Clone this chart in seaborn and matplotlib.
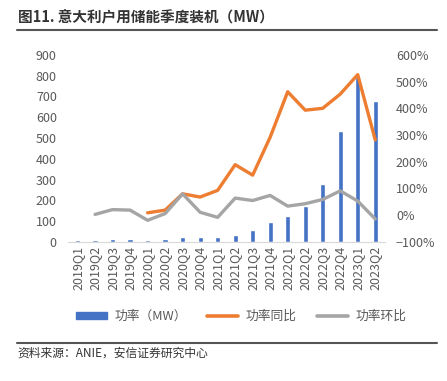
import numpy as np
import pandas as pd
import matplotlib
matplotlib.use("Agg")
import matplotlib.pyplot as plt
import seaborn as sns
from matplotlib.lines import Line2D
from matplotlib.patches import Patch

# data
quarters = ["2019Q1", "2019Q2", "2019Q3", "2019Q4", "2020Q1", "2020Q2", "2020Q3", "2020Q4",
            "2021Q1", "2021Q2", "2021Q3", "2021Q4", "2022Q1", "2022Q2", "2022Q3", "2022Q4",
            "2023Q1", "2023Q2"]
power_mw = [10, 10, 13, 14, 11, 12, 22, 24, 22, 35, 56, 94, 127, 174, 281, 532, 795, 677]
yoy_pct = [np.nan, np.nan, np.nan, np.nan, 9, 19, 80, 68, 93, 189, 150, 292,
           462, 393, 400, 453, 526, 282]
qoq_pct = [np.nan, 3, 21, 19, -19, 6, 80, 11, -8, 64, 55, 74, 34, 43, 59, 91, 53, -14]

BLUE = "#4472C4"
ORANGE = "#ED7D31"
GRAY = "#A5A5A5"
TXT = "#595959"

sns.set_style("white")
plt.rcParams["font.family"] = ["Noto Sans CJK SC", "DejaVu Sans"]

df = pd.DataFrame({"q": quarters, "mw": power_mw, "yoy": yoy_pct, "qoq": qoq_pct})
df["idx"] = np.arange(len(df))

fig = plt.figure(figsize=(4.47, 3.81), dpi=100)
ax = fig.add_axes([0.152, 0.365, 0.709, 0.491])

sns.barplot(data=df, x="q", y="mw", color=BLUE, width=0.3, saturation=1, ax=ax)
ax.set_ylim(0, 900)
ax.set_yticks(range(0, 901, 100))
ax.set_xlim(-0.55, len(df) - 0.45)
ax.set_xlabel("")
ax.set_ylabel("")
ax.tick_params(axis="y", length=0, labelsize=9, labelcolor=TXT, pad=8)
ax.tick_params(axis="x", length=0, labelsize=9, labelcolor=TXT, rotation=90, pad=3)
for s in ["top", "right", "left"]:
    ax.spines[s].set_visible(False)
ax.spines["bottom"].set_color("#D9D9D9")

ax2 = ax.twinx()
sns.lineplot(data=df, x="idx", y="yoy", color=ORANGE, linewidth=2.4, ax=ax2)
sns.lineplot(data=df, x="idx", y="qoq", color=GRAY, linewidth=2.4, ax=ax2)
ax2.set_ylim(-100, 600)
ax2.set_yticks(range(-100, 601, 100))
ax2.set_yticklabels([f"{v}%".replace("-", "\u2212") for v in range(-100, 601, 100)])
ax2.set_ylabel("")
ax2.tick_params(axis="y", length=0, labelsize=9, labelcolor=TXT, pad=8)
for s in ax2.spines.values():
    s.set_visible(False)

handles = [Patch(color=BLUE), Line2D([], [], color=ORANGE, lw=2.6),
           Line2D([], [], color=GRAY, lw=2.6)]
fig.legend(handles, ["功率（MW）", "功率同比", "功率环比"], loc="center",
           bbox_to_anchor=(0.54, 0.17), ncol=3, frameon=False, fontsize=9.2,
           handlelength=2.4, handleheight=0.5, handletextpad=0.6,
           columnspacing=1.6, labelcolor=TXT)

# title and source lines
fig.text(0.04, 0.955, "图11. 意大利户用储能季度装机（MW）", fontsize=10.5,
         fontweight="bold", color="#333333", va="center")
fig.add_artist(Line2D([0.038, 0.978], [0.921, 0.921], color="#555555", lw=1.5))
fig.add_artist(Line2D([0.038, 0.978], [0.1, 0.1], color="#555555", lw=1.5))
fig.text(0.04, 0.073, "资料来源：ANIE，安信证券研究中心", fontsize=8.5,
         fontstyle="italic", color="#333333", va="center")

fig.savefig("out.png", dpi=100)
